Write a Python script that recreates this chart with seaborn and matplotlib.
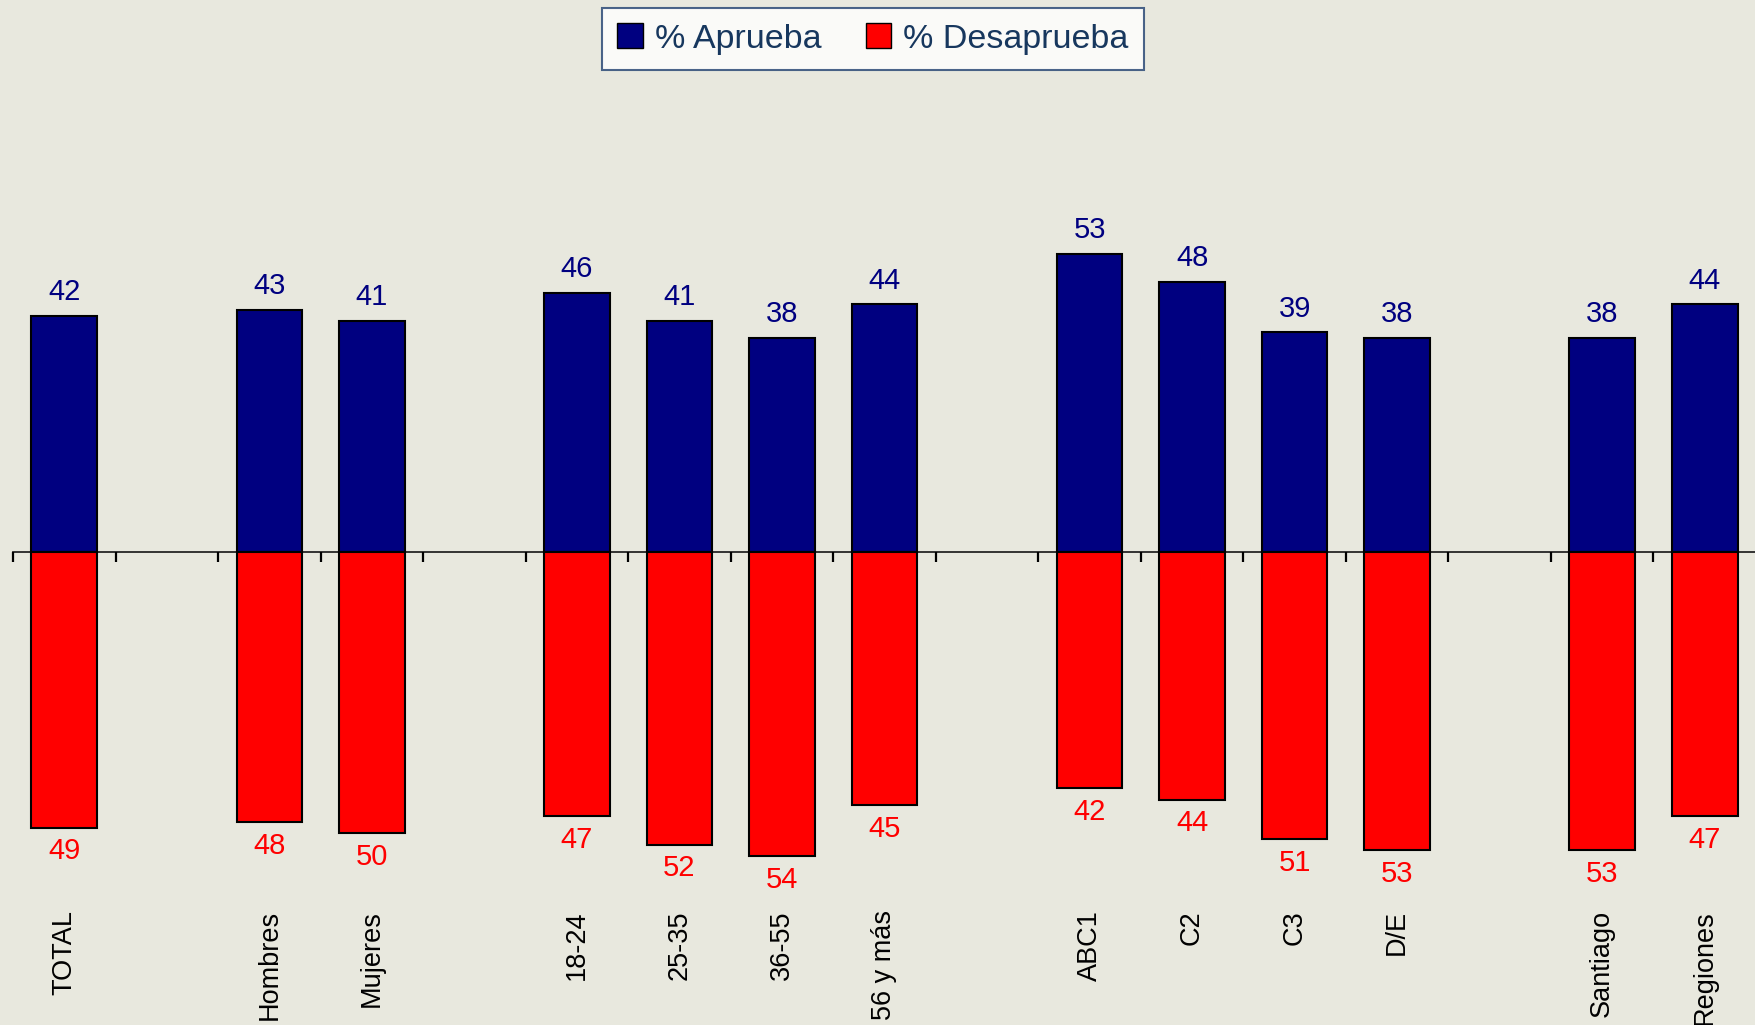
import pandas as pd
import numpy as np
import matplotlib
matplotlib.use("Agg")
import matplotlib.pyplot as plt
import matplotlib.patches as mpatches
import matplotlib.transforms as mtransforms
import seaborn as sns

# DATA
grupos = ['TOTAL', 'Hombres', 'Mujeres', '18-24', '25-35', '36-55', '56 y más',
          'ABC1', 'C2', 'C3', 'D/E', 'Santiago', 'Regiones']
aprueba = [42, 43, 41, 46, 41, 38, 44, 53, 48, 39, 38, 38, 44]
desaprueba = [49, 48, 50, 47, 52, 54, 45, 42, 44, 51, 53, 53, 47]
# slot order with empty separators between blocks
orden = ['TOTAL', ' ', 'Hombres', 'Mujeres', '  ', '18-24', '25-35', '36-55', '56 y más',
         '   ', 'ABC1', 'C2', 'C3', 'D/E', '    ', 'Santiago', 'Regiones']

bg = '#E8E8DE'
azul = '#000080'
rojo = '#FF0000'
txt_leg = '#17375E'

sns.set_style("white")
plt.rcParams['font.family'] = ['Liberation Sans', 'DejaVu Sans']

df = pd.DataFrame({
    'grupo': grupos * 2,
    'valor': aprueba + [-v for v in desaprueba],
    'serie': ['% Aprueba'] * len(grupos) + ['% Desaprueba'] * len(grupos),
})

fig = plt.figure(figsize=(17.56, 10.25), dpi=100, facecolor=bg)
ax = fig.add_axes([13 / 1756, 1 - 880 / 1025, 1 - 13 / 1756, 780 / 1025])
ax.set_facecolor(bg)

sns.barplot(data=df, x='grupo', y='valor', hue='serie', order=orden,
            hue_order=['% Aprueba', '% Desaprueba'],
            palette={'% Aprueba': azul, '% Desaprueba': rojo},
            dodge=False, width=0.64, edgecolor='black', linewidth=1.5,
            legend=False, ax=ax, errorbar=None, saturation=1)

ax.set_xlim(-0.5, 16.5)
ax.set_ylim(-58.3, 80.3)

for cont, col in zip(ax.containers, [azul, rojo]):
    labs = [f"{abs(v):.0f}" if np.isfinite(v) else "" for v in cont.datavalues]
    ax.bar_label(cont, labels=labs, padding=7, color=col, fontsize=21)

# axis line at zero with ticks at slot boundaries
for s in ['left', 'right', 'top']:
    ax.spines[s].set_visible(False)
ax.spines['bottom'].set_position(('data', 0))
ax.spines['bottom'].set_linewidth(1.3)
ax.spines['bottom'].set_zorder(0.5)
ax.set_xticks([])
ax.set_xticks(np.arange(-0.5, 16.5, 1.0), minor=True)
ax.tick_params(axis='x', which='minor', bottom=True, direction='out', length=7,
               width=1.6, color='black')
ax.set_yticks([])
ax.set_xlabel('')
ax.set_ylabel('')

# category labels
trans = mtransforms.blended_transform_factory(ax.transData, fig.transFigure)
for g in grupos:
    ax.text(orden.index(g), 1 - 910 / 1025, g, rotation=90, ha='center', va='top',
            fontsize=19.5, color='black', transform=trans, clip_on=False)

handles = [mpatches.Patch(facecolor=azul, edgecolor='black', label='% Aprueba'),
           mpatches.Patch(facecolor=rojo, edgecolor='black', label='% Desaprueba')]
leg = fig.legend(handles=handles, loc='upper center', bbox_to_anchor=(873 / 1756, 1 - 8 / 1025),
                 ncol=2, frameon=True, fancybox=False, fontsize=24.5, handlelength=0.75,
                 handleheight=0.75, handletextpad=0.35, columnspacing=1.3,
                 borderpad=0.45, borderaxespad=0, labelcolor=txt_leg)
leg.get_frame().set_edgecolor('#1F3F6F')
leg.get_frame().set_linewidth(1.5)
leg.get_frame().set_facecolor('white')

fig.savefig('out.png', dpi=100, facecolor=bg)
